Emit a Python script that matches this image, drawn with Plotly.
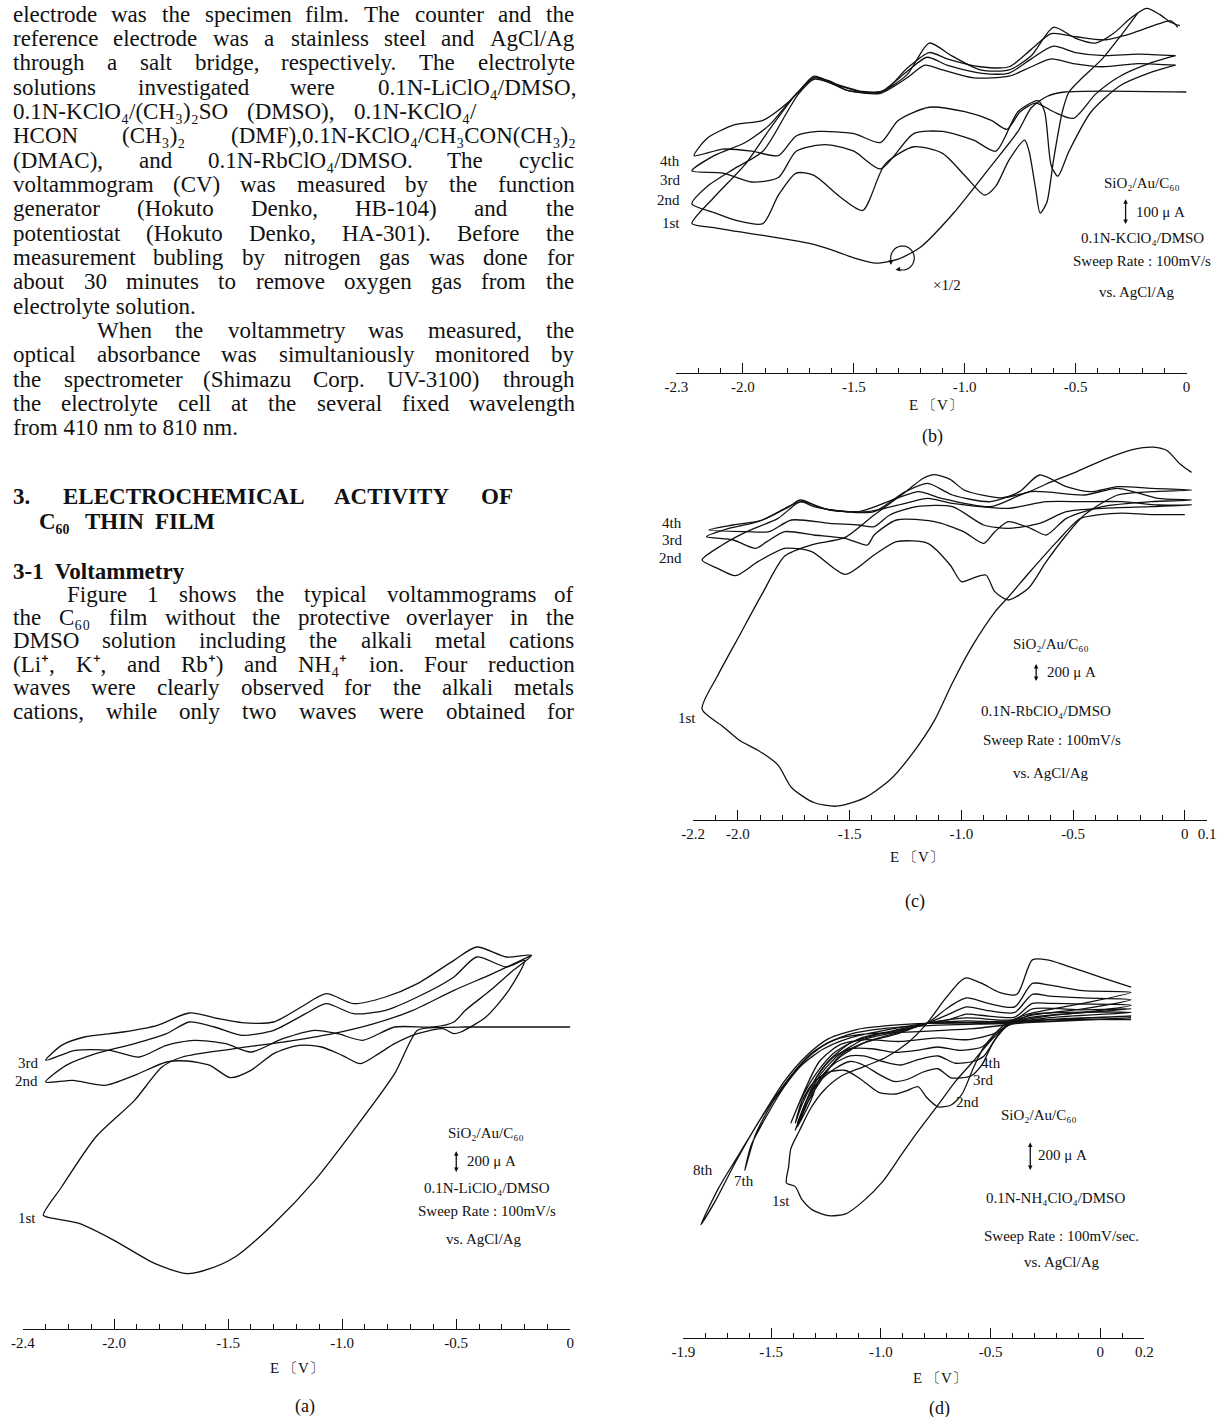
import math
import numpy as np
import plotly.graph_objects as go

# ---------------- data (E in V vs AgCl/Ag, I in uA) ----------------
# Panel (a) 0.1N-LiClO4/DMSO
a1_E = [0.00, -0.46, -0.60, -0.67, -0.77, -0.95, -1.12, -1.30, -1.47, -1.58, -1.68, -1.82, -2.00, -2.15, -2.26, -2.31,
        -2.23, -2.08, -1.91, -1.79, -1.70, -1.47, -1.21, -1.04, -0.86, -0.69, -0.51, -0.34, -0.17]
a1_I = [0, 0, -6, -30, -420, -930, -1380, -1770, -2070, -2175, -2220, -2130, -1920, -1770, -1725, -1695,
        -1440, -990, -660, -360, -270, -195, -120, -60, 30, 150, 330, 480, 645]
a2_E = [-0.20, -0.27, -0.37, -0.48, -0.51, -0.56, -0.67, -0.77, -0.84, -0.92, -1.00, -1.09, -1.19, -1.30, -1.40, -1.49,
        -1.58, -1.68, -1.77, -1.91, -2.04, -2.18, -2.30,
        -2.21, -2.08, -1.91, -1.77, -1.67, -1.56, -1.44, -1.30, -1.16, -1.07, -0.95, -0.81, -0.67, -0.51, -0.41, -0.28, -0.20]
a2_I = [600, 330, 90, -45, -60, -15, -60, -150, -240, -330, -255, -180, -165, -240, -390, -456,
        -345, -306, -315, -435, -525, -480, -495,
        -345, -240, -150, -60, 45, 0, -75, -30, 120, 210, 120, 150, 270, 450, 630, 540, 600]
a3_E = [-0.17, -0.25, -0.35, -0.46, -0.51, -0.60, -0.77, -0.91, -1.02, -1.12, -1.26, -1.40, -1.51, -1.65, -1.77, -1.89,
        -2.02, -2.17, -2.30,
        -2.23, -2.13, -1.96, -1.81, -1.67, -1.54, -1.44, -1.30, -1.18, -1.07, -0.95, -0.81, -0.67, -0.51, -0.41, -0.28, -0.17]
a3_I = [645, 510, 330, 150, 45, 0, 0, -120, -60, -30, -105, -225, -150, -120, -165, -270,
        -210, -210, -300,
        -165, -90, -45, 15, 126, 75, 39, 45, 180, 300, 210, 270, 390, 600, 720, 630, 645]

# Panel (b) 0.1N-KClO4/DMSO (1st cycle drawn x1/2)
b1_E = [0.00, -0.55, -0.63, -0.70, -0.76, -0.88, -1.05, -1.20, -1.30, -1.40, -1.50, -1.60, -1.70, -1.80, -1.91, -2.03, -2.13, -2.23,
        -2.13, -1.99, -1.88, -1.76, -1.68, -1.61, -1.53, -1.38, -1.26, -1.16, -1.06, -0.93, -0.80, -0.70, -0.60, -0.50, -0.41,
        -0.33, -0.25, -0.18, -0.12, -0.07, -0.03]
b1_I = [0, 0, -17, -60, -150, -280, -460, -590, -635, -650, -630, -600, -575, -560, -545, -530, -515, -500,
        -400, -275, -142, -8, 54, 42, 6, 0, 66, 186, 138, 84, 84, 138, 246, 204, 186,
        222, 282, 318, 294, 264, 252]
b2_E = [-0.22, -0.30, -0.38, -0.47, -0.53, -0.56, -0.60, -0.63, -0.66, -0.68, -0.71, -0.73, -0.80, -0.86, -0.91, -1.00, -1.10,
        -1.23, -1.36, -1.46, -1.56, -1.68, -1.76, -1.84, -1.91, -2.03, -2.13, -2.23,
        -2.16, -2.04, -1.91, -1.80, -1.75, -1.68, -1.61, -1.53, -1.38, -1.26, -1.18, -1.10, -0.96, -0.80, -0.70, -0.61, -0.51,
        -0.38, -0.22, -0.05]
b2_I = [300, 210, 126, 54, 0, -75, -260, -420, -460, -370, -225, -183, -258, -358, -392, -317, -233,
        -208, -275, -450, -400, -317, -308, -392, -500, -488, -458, -425,
        -358, -292, -225, -75, -8, 48, 36, 6, -5, 54, 102, 84, 54, 60, 96, 126, 108,
        96, 108, 102]
b3_E = [-0.05, -0.17, -0.30, -0.43, -0.53, -0.58, -0.61, -0.64, -0.67, -0.76, -0.86, -0.96, -1.10, -1.23, -1.38, -1.50, -1.63,
        -1.76, -1.84, -1.96, -2.09, -2.23,
        -2.13, -1.99, -1.88, -1.78, -1.75, -1.68, -1.60, -1.46, -1.38, -1.26, -1.17, -1.08, -0.93, -0.80, -0.70, -0.60, -0.50,
        -0.37, -0.22, -0.05]
b3_I = [102, 72, 24, -75, -225, -320, -280, -75, -33, -75, -225, -183, -150, -158, -292, -225, -200,
        -225, -325, -342, -308, -300,
        -242, -192, -125, -25, 0, 54, 32, 0, 0, 78, 132, 102, 72, 72, 126, 174, 150,
        138, 144, 138]
b4_E = [-0.05, -0.17, -0.30, -0.41, -0.51, -0.60, -0.68, -0.75, -0.81, -0.88, -1.00, -1.16, -1.30, -1.38, -1.50, -1.66, -1.76,
        -1.84, -1.96, -2.09, -2.22,
        -2.16, -2.04, -1.91, -1.80, -1.75, -1.68, -1.60, -1.46, -1.36, -1.26, -1.16, -1.08, -0.93, -0.80, -0.70, -0.61, -0.50,
        -0.37, -0.25, -0.13, -0.07, -0.04]
b4_I = [138, 108, 60, -8, -100, -75, -42, -75, -142, -108, -75, -58, -108, -192, -158, -150, -167,
        -242, -225, -217, -242,
        -175, -125, -108, -42, 0, 60, 36, 2, 6, 90, 150, 126, 96, 96, 162, 222, 210,
        198, 222, 258, 270, 246]

# Panel (c) 0.1N-RbClO4/DMSO
c1_E = [0.00, -0.15, -0.28, -0.38, -0.47, -0.57, -0.69, -0.79, -0.85, -0.95, -1.04, -1.12, -1.22, -1.32, -1.44, -1.56, -1.66,
        -1.76, -1.82, -1.91, -1.99, -2.07, -2.16,
        -2.09, -1.99, -1.89, -1.79, -1.67, -1.52, -1.39, -1.25, -1.17, -1.12, -1.05, -0.99, -0.90, -0.82, -0.70, -0.62, -0.48,
        -0.35, -0.23, -0.14, -0.08, -0.02, 0.03]
c1_I = [5, 5, 20, 5, -40, -282, -605, -887, -1048, -1411, -1814, -2218, -2580, -2863, -3064, -3145, -3105,
        -2943, -2701, -2540, -2439, -2278, -2097,
        -1734, -1290, -847, -444, -323, -242, 0, 248, 397, 435, 385, 273, 211, 186, 248, 335, 472,
        609, 708, 733, 696, 547, 460]
c2_E = [0.03, -0.15, -0.30, -0.45, -0.53, -0.62, -0.70, -0.79, -0.85, -0.89, -0.95, -1.00, -1.05, -1.15, -1.29, -1.39, -1.52,
        -1.67, -1.79, -1.91, -2.01, -2.09, -2.16,
        -2.07, -1.96, -1.82, -1.72, -1.66, -1.52, -1.39, -1.25, -1.15, -1.04, -0.87, -0.74, -0.65, -0.53, -0.42, -0.30, -0.15, 0.03]
c2_I = [270, 252, 216, 0, -216, -504, -792, -918, -828, -648, -684, -720, -540, -306, -288, -432, -641,
        -396, -360, -504, -655, -576, -486,
        -324, -180, -36, 144, 90, 36, 36, 252, 342, 216, 144, 252, 432, 306, 252, 306, 288, 270]
c3_E = [0.03, -0.15, -0.37, -0.53, -0.62, -0.69, -0.79, -0.85, -0.90, -0.99, -1.12, -1.29, -1.39, -1.42, -1.52, -1.66, -1.79,
        -1.87, -1.92, -2.02, -2.14,
        -2.04, -1.91, -1.77, -1.72, -1.62, -1.46, -1.29, -1.19, -1.09, -0.87, -0.69, -0.45, -0.30, -0.12, 0.03]
c3_I = [162, 144, 90, -36, -216, -144, -72, -180, -306, -180, -72, -54, -216, -324, -252, -216, -180,
        -288, -360, -270, -234,
        -144, -72, 90, 162, 72, 36, 180, 252, 180, 90, 252, 216, 288, 180, 162]
c4_E = [0.03, -0.15, -0.37, -0.53, -0.65, -0.79, -0.90, -1.04, -1.20, -1.32, -1.39, -1.46, -1.59, -1.76, -1.86, -1.96, -2.13,
        -2.02, -1.89, -1.76, -1.71, -1.59, -1.42, -1.25, -1.15, -1.04, -0.79, -0.62, -0.45, -0.28, -0.12, 0.03]
c4_I = [108, 90, 72, 36, -90, -144, -108, 90, 90, 0, -126, -108, -90, -54, -180, -180, -162,
        -108, -54, 108, 144, 54, 36, 126, 180, 126, 72, 144, 144, 144, 108, 108]

# Panel (d) 0.1N-NH4ClO4/DMSO
d1_E = [0.14, -0.24, -0.41, -0.48, -0.58, -0.66, -0.74, -0.84, -0.91, -0.99, -1.08, -1.16, -1.24, -1.31, -1.36, -1.39, -1.43,
        -1.42, -1.41, -1.37, -1.32, -1.26, -1.18, -1.08, -0.98, -0.88, -0.79, -0.71, -0.64, -0.61, -0.54, -0.46, -0.38, -0.31,
        -0.24, -0.16, 0.01, 0.14]
d1_I = [0, 0, -25, -112, -288, -425, -588, -788, -938, -1112, -1250, -1338, -1350, -1312, -1238, -1150, -1125,
        -1012, -888, -762, -612, -488, -388, -325, -262, -162, -25, 138, 262, 288, 250, 188, 175, 412,
        412, 375, 288, 225]
d2_E = [0.14, -0.08, -0.33, -0.44, -0.53, -0.58, -0.63, -0.68, -0.74, -0.79, -0.83, -0.88, -0.93, -1.01, -1.09, -1.16, -1.24,
        -1.31, -1.36, -1.39,
        -1.36, -1.31, -1.24, -1.14, -1.01, -0.88, -0.79, -0.69, -0.61, -0.51, -0.39, -0.31, -0.23, -0.08, 0.14]
d2_I = [188, 112, 38, -38, -188, -338, -512, -588, -600, -538, -462, -488, -512, -500, -412, -350, -362,
        -438, -562, -712,
        -588, -438, -288, -162, -100, -62, -25, 88, 150, 112, 88, 250, 238, 200, 188]
d3_E = [0.14, -0.08, -0.33, -0.43, -0.49, -0.54, -0.59, -0.68, -0.74, -0.81, -0.88, -0.94, -1.01, -1.08, -1.14, -1.21, -1.29,
        -1.34, -1.38,
        -1.34, -1.28, -1.19, -1.08, -0.94, -0.79, -0.69, -0.61, -0.51, -0.39, -0.31, -0.23, -0.08, 0.14]
d3_I = [138, 75, 25, -38, -162, -312, -388, -400, -338, -362, -412, -425, -375, -312, -288, -338, -438,
        -562, -712,
        -562, -388, -238, -138, -88, -25, 38, 88, 62, 50, 175, 162, 150, 138]
d4_E = [0.14, -0.08, -0.33, -0.43, -0.48, -0.53, -0.58, -0.66, -0.74, -0.83, -0.91, -0.99, -1.08, -1.14, -1.21, -1.28, -1.32,
        -1.38,
        -1.33, -1.26, -1.18, -1.06, -0.93, -0.79, -0.69, -0.61, -0.51, -0.39, -0.31, -0.23, -0.08, 0.14]
d4_I = [100, 50, 12, -50, -138, -250, -288, -300, -250, -275, -312, -288, -250, -250, -300, -412, -562,
        -738,
        -562, -388, -238, -150, -92, -25, 0, 38, 25, 18, 112, 112, 108, 100]
d5_E = [0.14, -0.24, -0.41, -0.48, -0.54, -0.64, -0.74, -0.84, -0.94, -1.04, -1.14, -1.22, -1.29, -1.34, -1.39,
        -1.34, -1.28, -1.19, -1.08, -0.93, -0.79, -0.61, -0.39, -0.31, -0.08, 0.14]
d5_I = [75, 25, -25, -112, -188, -212, -188, -212, -225, -200, -200, -262, -388, -562, -762,
        -588, -412, -262, -162, -100, -25, 12, 0, 75, 68, 75]
d6_E = [0.14, -0.24, -0.41, -0.49, -0.61, -0.74, -0.91, -1.08, -1.19, -1.28, -1.34, -1.41,
        -1.36, -1.29, -1.21, -1.09, -0.94, -0.79, -0.61, -0.39, -0.31, 0.14]
d6_I = [50, 12, -32, -100, -138, -125, -150, -138, -175, -288, -462, -712,
        -538, -362, -225, -125, -75, -25, -8, -12, 38, 50]
d7_E = [0.14, -0.24, -0.41, -0.58, -0.74, -0.91, -1.08, -1.21, -1.31, -1.41, -1.49, -1.57, -1.62,
        -1.59, -1.52, -1.44, -1.36, -1.26, -1.14, -0.99, -0.79, -0.58, -0.24, 0.14]
d7_I = [25, 0, -32, -62, -75, -88, -100, -138, -225, -388, -562, -788, -1038,
        -862, -662, -462, -312, -200, -125, -75, -25, -18, 0, 25]
d8_E = [0.14, -0.41, -0.74, -0.99, -1.14, -1.26, -1.36, -1.46, -1.56, -1.66, -1.75, -1.82,
        -1.74, -1.64, -1.54, -1.44, -1.34, -1.24, -1.11, -0.94, -0.79, -0.41, 0.14]
d8_I = [12, -25, -38, -62, -100, -175, -300, -488, -712, -975, -1238, -1412,
        -1162, -912, -662, -425, -250, -132, -68, -38, -25, -18, 12]

# axis ticks
a_ticks = [-2.4, -2.0, -1.5, -1.0, -0.5, 0.0]
a_labels = ["-2.4", "-2.0", "-1.5", "-1.0", "-0.5", "0"]
b_ticks = [-2.3, -2.0, -1.5, -1.0, -0.5, 0.0]
b_labels = ["-2.3", "-2.0", "-1.5", "-1.0", "-0.5", "0"]
c_ticks = [-2.2, -2.0, -1.5, -1.0, -0.5, 0.0, 0.1]
c_labels = ["-2.2", "-2.0", "-1.5", "-1.0", "-0.5", "0", "0.1"]
d_ticks = [-1.9, -1.5, -1.0, -0.5, 0.0, 0.2]
d_labels = ["-1.9", "-1.5", "-1.0", "-0.5", "0", "0.2"]

# ---------------- layout helpers ----------------
W, H = 1226, 1417
FONT = "Liberation Serif, Times New Roman, serif"
INK = "#111111"


def fx(px):
    return px / W


def fy(py):
    return 1 - py / H


# panel geometry in page pixels: x0/x1 = ends of the ruler, ruler = baseline y,
# top = top of plotting band, base = y of zero current, k = uA per pixel
PANELS = [
    dict(n="", x0=11, x1=568, ruler=1329, top=900, base=1027, k=9.0, rng=(-2.4, 0.0),
         ticks=a_ticks, labels=a_labels,
         curves=[(a1_E, a1_I), (a2_E, a2_I), (a3_E, a3_I)]),
    dict(n="2", x0=676, x1=1195, ruler=373, top=0, base=92, k=3.8, rng=(-2.3, 0.0),
         ticks=b_ticks, labels=b_labels,
         curves=[(b1_E, b1_I), (b2_E, b2_I), (b3_E, b3_I), (b4_E, b4_I)]),
    dict(n="3", x0=693, x1=1216, ruler=820, top=420, base=515, k=10.8, rng=(-2.2, 0.1),
         ticks=c_ticks, labels=c_labels,
         curves=[(c1_E, c1_I), (c2_E, c2_I), (c3_E, c3_I), (c4_E, c4_I)]),
    dict(n="4", x0=683, x1=1152, ruler=1338, top=930, base=1019.7, k=6.89, rng=(-1.9, 0.2),
         ticks=d_ticks, labels=d_labels,
         curves=[(d1_E, d1_I), (d2_E, d2_I), (d3_E, d3_I), (d4_E, d4_I), (d5_E, d5_I),
                 (d6_E, d6_I), (d7_E, d7_I), (d8_E, d8_I)]),
]

fig = go.Figure()
layout_axes = {}
for p in PANELS:
    n = p["n"]
    for E, I in p["curves"]:
        fig.add_trace(go.Scatter(
            x=E, y=I, mode="lines", xaxis="x" + n, yaxis="y" + n,
            line=dict(color=INK, width=1.3, shape="spline", smoothing=0.7),
            hoverinfo="skip", showlegend=False))
    lo, hi = p["rng"]
    minor_vals = [round(v, 2) for v in np.arange(lo, hi + 1e-9, 0.1)]
    layout_axes["xaxis" + n] = dict(
        domain=[fx(p["x0"]), fx(p["x1"])], range=[lo, hi], anchor="y" + n,
        showgrid=False, zeroline=False, showline=True, linecolor=INK, linewidth=1.3,
        ticks="inside", ticklen=10, tickwidth=1.3, tickcolor=INK,
        tickmode="array", tickvals=p["ticks"], ticktext=p["labels"],
        tickfont=dict(family=FONT, size=15, color=INK),
        minor=dict(tickmode="array", tickvals=minor_vals, ticks="inside", ticklen=5,
                   tickwidth=1.1, tickcolor=INK, showgrid=False),
        fixedrange=True)
    layout_axes["yaxis" + n] = dict(
        domain=[fy(p["ruler"]), fy(p["top"])],
        range=[(p["base"] - p["ruler"]) * p["k"], (p["base"] - p["top"]) * p["k"]],
        anchor="x" + n, visible=False, fixedrange=True)

ann = []


def txt(s, px, py, size=15, xanchor="center", bold=False):
    ann.append(dict(text=s, x=fx(px), y=fy(py), xref="paper", yref="paper",
                    xanchor=xanchor, yanchor="middle", showarrow=False, borderpad=0,
                    font=dict(family=FONT, size=size, color=INK,
                              weight="bold" if bold else "normal")))


def scalebar(px, py_bottom, uA, k):
    ann.append(dict(text="", x=fx(px), y=fy(py_bottom), xref="paper", yref="paper",
                    ax=0, ay=-uA / k, axref="pixel", ayref="pixel", showarrow=True,
                    arrowhead=2, arrowside="end+start", arrowsize=0.7, arrowwidth=1.3,
                    arrowcolor=INK))


# Times metrics (1/1000 em) used to justify the body text like the printed page
_TR = {" ": 250, "!": 333, "(": 333, ")": 333, ",": 250, "-": 333, ".": 250, "/": 278, ":": 278,
       "+": 564, "A": 722, "B": 667, "C": 667, "D": 722, "E": 611, "F": 556, "G": 722, "H": 722,
       "I": 333, "J": 389, "K": 722, "L": 611, "M": 889, "N": 722, "O": 722, "P": 556, "Q": 722,
       "R": 667, "S": 556, "T": 611, "U": 722, "V": 722, "W": 944, "X": 722, "Y": 722, "Z": 611,
       "a": 444, "b": 500, "c": 444, "d": 500, "e": 444, "f": 333, "g": 500, "h": 500, "i": 278,
       "j": 278, "k": 500, "l": 278, "m": 778, "n": 500, "o": 500, "p": 500, "q": 500, "r": 333,
       "s": 389, "t": 278, "u": 500, "v": 500, "w": 722, "x": 500, "y": 500, "z": 444}
_TB = {" ": 250, ".": 250, "-": 333, "A": 722, "C": 722, "E": 667, "F": 611, "H": 778, "I": 389,
       "L": 667, "M": 944, "N": 722, "O": 778, "R": 722, "T": 667, "V": 722, "Y": 722}
_SMALL = set("₀₁₂₃₄₅₆₇₈₉⁺")


def twidth(s, size, bold=False):
    total = 0.0
    for ch in s:
        if ch in _SMALL:
            w = 380
        else:
            w = (_TB.get(ch) if bold else None) or _TR.get(ch, 500)
        total += w
    return total / 1000.0 * size


def line_text(s, x_left, x_right, py, size, bold=False, justify=True):
    words = [w for w in s.split(" ") if w]
    if not justify or len(words) < 2:
        txt(s, x_left, py, size, "left", bold)
        return
    widths = [twidth(w, size, bold) for w in words]
    gap = (x_right - x_left - sum(widths)) / (len(words) - 1)
    x = x_left
    for w, wd in zip(words, widths):
        txt(w, x, py, size, "left", bold)
        x += wd + gap


# ---------------- left column text ----------------
BODY = 23
RIGHT = 570
body = [
    "electrode was the specimen film. The counter and the",
    "reference electrode was a stainless steel and AgCl/Ag",
    "through a salt bridge, respectively.  The electrolyte",
    "solutions investigated were 0.1N-LiClO₄/DMSO,",
    "0.1N-KClO₄/(CH₃)₂SO (DMSO), 0.1N-KClO₄/",
    "HCON (CH₃)₂ (DMF),0.1N-KClO₄/CH₃CON(CH₃)₂",
    "(DMAC), and 0.1N-RbClO₄/DMSO.  The cyclic",
    "voltammogram (CV) was measured by the function",
    "generator (Hokuto Denko, HB-104) and the",
    "potentiostat (Hokuto Denko, HA-301).  Before the",
    "measurement bubling by nitrogen gas was done for",
    "about 30 minutes to remove oxygen gas from the",
    "electrolyte solution.",
    "When the voltammetry was measured, the",
    "optical absorbance was simultaniously monitored by",
    "the spectrometer (Shimazu Corp. UV-3100) through",
    "the electrolyte cell at the several fixed wavelength",
    "from 410 nm to 810 nm.",
]
for i, line in enumerate(body):
    left = 85 if i == 13 else 0
    right = RIGHT if i != 4 else 470
    line_text(line, left, right, 14 + 24.35 * i, BODY, justify=i not in (12, 17))

line_text("3. ELECTROCHEMICAL ACTIVITY OF", 0, 508, 496, 23, bold=True)
line_text("C₆₀ THIN FILM", 26, 205, 521, 23, bold=True)
txt("3-1  Voltammetry", 0, 571, 23, xanchor="left", bold=True)
body2 = [
    "Figure 1 shows the typical voltammograms of",
    "the C₆₀ film without the protective overlayer in the",
    "DMSO solution including the alkali metal cations",
    "(Li⁺, K⁺, and Rb⁺) and NH₄⁺ ion.  Four reduction",
    "waves were clearly observed for the alkali metals",
    "cations, while only two waves were obtained for",
]
for i, line in enumerate(body2):
    line_text(line, 55 if i == 0 else 0, RIGHT, 594 + 23.4 * i, BODY)

# ---------------- panel (a) ----------------
txt("SiO₂/Au/C₆₀", 482, 1133)
scalebar(452, 1172, 200, 9.0)
txt("200 μ A", 462, 1161, xanchor="left")
txt("0.1N-LiClO₄/DMSO", 483, 1188)
txt("Sweep Rate : 100mV/s", 483, 1211)
txt("vs. AgCl/Ag", 480, 1239)
txt("3rd", 27, 1063, xanchor="right")
txt("2nd", 27, 1081, xanchor="right")
txt("1st", 25, 1218, xanchor="right")
txt("E 〔V〕", 290, 1368, size=15)
txt("(a)", 298, 1406, size=18)

# ---------------- panel (b) ----------------
txt("SiO₂/Au/C₆₀", 1150, 183)
scalebar(1133, 224, 100, 3.8)
txt("100 μ A", 1143, 212, xanchor="left")
txt("0.1N-KClO₄/DMSO", 1150, 238)
txt("Sweep Rate : 100mV/s", 1150, 261)
txt("vs. AgCl/Ag", 1145, 292)
txt("×1/2", 951, 285)
txt("4th", 681, 161, xanchor="right")
txt("3rd", 681, 180, xanchor="right")
txt("2nd", 681, 200, xanchor="right")
txt("1st", 681, 223, xanchor="right")
txt("E 〔V〕", 940, 405, size=15)
txt("(b)", 937, 437, size=18)

# circular arrow drawn next to the x1/2 marker
cx, cy, r = 906, 258, 12
pts = [(cx + r * math.cos(math.radians(a)), cy - r * math.sin(math.radians(a)))
       for a in range(190, -101, -10)]
path = "M " + " L ".join(f"{fx(px):.5f},{fy(py):.5f}" for px, py in pts)
shapes = [dict(type="path", path=path, xref="paper", yref="paper",
               line=dict(color=INK, width=1.2))]
ann.append(dict(text="", x=fx(pts[0][0]), y=fy(pts[0][1] + 5), xref="paper", yref="paper",
                ax=0, ay=-6, axref="pixel", ayref="pixel", showarrow=True, arrowhead=2,
                arrowsize=0.8, arrowwidth=1.2, arrowcolor=INK))
ann.append(dict(text="", x=fx(pts[-1][0] - 5), y=fy(pts[-1][1]), xref="paper", yref="paper",
                ax=6, ay=-1, axref="pixel", ayref="pixel", showarrow=True, arrowhead=2,
                arrowsize=0.8, arrowwidth=1.2, arrowcolor=INK))

# ---------------- panel (c) ----------------
txt("SiO₂/Au/C₆₀", 1057, 644)
scalebar(1042, 681, 200, 10.8)
txt("200 μ A", 1052, 672, xanchor="left")
txt("0.1N-RbClO₄/DMSO", 1052, 711)
txt("Sweep Rate : 100mV/s", 1058, 740)
txt("vs. AgCl/Ag", 1057, 773)
txt("4th", 683, 523, xanchor="right")
txt("3rd", 683, 540, xanchor="right")
txt("2nd", 683, 558, xanchor="right")
txt("1st", 697, 718, xanchor="right")
txt("E 〔V〕", 921, 857, size=15)
txt("(c)", 919, 901, size=18)

# ---------------- panel (d) ----------------
txt("SiO₂/Au/C₆₀", 1045, 1115)
scalebar(1036, 1170, 200, 6.89)
txt("200 μ A", 1043, 1155, xanchor="left")
txt("0.1N-NH₄ClO₄/DMSO", 1062, 1198)
txt("Sweep Rate : 100mV/sec.", 1068, 1236)
txt("vs. AgCl/Ag", 1068, 1262)
txt("8th", 703, 1170)
txt("7th", 745, 1181)
txt("1st", 782, 1201)
txt("2nd", 972, 1102)
txt("3rd", 988, 1080)
txt("4th", 996, 1063)
txt("E 〔V〕", 944, 1378, size=15)
txt("(d)", 944, 1408, size=18)

fig.update_layout(
    width=W, height=H, autosize=False,
    margin=dict(l=0, r=0, t=0, b=0),
    paper_bgcolor="white", plot_bgcolor="rgba(0,0,0,0)",
    showlegend=False, annotations=ann, shapes=shapes,
    **layout_axes)

fig.write_html("out.html", config={"displayModeBar": False},
               post_script="document.body.style.margin='0';document.body.style.padding='0';")
